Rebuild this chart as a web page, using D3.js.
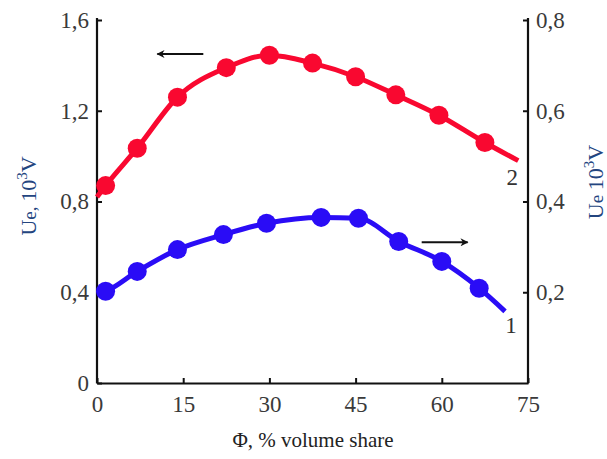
<!doctype html>
<html>
<head>
<meta charset="utf-8">
<script src="https://d3js.org/d3.v7.min.js"></script>
<style>
	body { margin:0; background:#fff; }
	svg { display:block; }
	text { font-family:"Liberation Serif","Times New Roman","DejaVu Serif",serif; }
	.tick-lab { font-size:23px; fill:#3a3a3a; }
	.ylab { font-size:22px; fill:#23457f; }
	.xlab { font-size:21px; fill:#222; }
	.num { font-size:23px; fill:#333; }
</style>
</head>
<body>
<script>

// curve 2 (red, left axis)
var phi2 = [1.5, 7, 14, 22.5, 30, 37.5, 45, 52, 59.5, 67.5]
var ue2 = [0.87, 1.035, 1.26, 1.39, 1.445, 1.41, 1.35, 1.27, 1.18, 1.06]
var line2Start = [0, 0.82]
var line2End = [73.3, 0.98]

// curve 1 (blue, right axis)
var phi1 = [1.5, 7, 14, 22, 29.5, 39, 45.5, 52.5, 60, 66.5]
var ue1 = [0.202, 0.246, 0.294, 0.327, 0.352, 0.365, 0.363, 0.312, 0.268, 0.209]
var line1Start = [0, 0.196]
var line1End = [71, 0.158]

var xTicks = [0, 15, 30, 45, 60, 75]
var yLeftTicks = [0, 0.4, 0.8, 1.2, 1.6]
var yRightTicks = [0.2, 0.4, 0.6, 0.8]

var width = 607
var height = 459
var serif = '"Liberation Serif","Times New Roman","DejaVu Serif",serif'

var svg = d3.select("body").append("svg")
	.attr("width", width)
	.attr("height", height)
	.style("font-family", serif)

var x = d3.scaleLinear().domain([0, 75]).range([97, 528])
var yL = d3.scaleLinear().domain([0, 1.6]).range([383, 20])
var yR = d3.scaleLinear().domain([0, 0.8]).range([383, 20])

function comma(d) { return String(d).replace(".", ",") }

// axes
var bottom = svg.append("g").attr("transform", "translate(0,383)")
	.call(d3.axisBottom(x).tickValues(xTicks).tickSizeInner(-5).tickSizeOuter(0).tickPadding(12).tickFormat(d3.format("d")))
var left = svg.append("g").attr("transform", "translate(97,0)")
	.call(d3.axisLeft(yL).tickValues(yLeftTicks).tickSizeInner(-5).tickSizeOuter(0).tickPadding(8).tickFormat(comma))
var right = svg.append("g").attr("transform", "translate(528,0)")
	.call(d3.axisRight(yR).tickValues(yRightTicks).tickSizeInner(-5).tickSizeOuter(0).tickPadding(8).tickFormat(comma))

svg.selectAll("g").attr("font-family", null).attr("font-size", null)
svg.selectAll(".domain").attr("stroke", "#111").attr("stroke-width", 2.2)
svg.selectAll(".tick line").attr("stroke", "#111").attr("stroke-width", 2)
svg.selectAll(".tick text").attr("class", "tick-lab").style("font-family", serif)
bottom.selectAll(".tick text").attr("dy", "0.75em")
right.select(".domain").attr("d", "M0,18V383.5")
left.select(".domain").attr("d", "M0,18V383.5")

// lines
var lineL = d3.line().x(function(d) { return x(d[0]) }).y(function(d) { return yL(d[1]) }).curve(d3.curveMonotoneX)
var lineR = d3.line().x(function(d) { return x(d[0]) }).y(function(d) { return yR(d[1]) }).curve(d3.curveMonotoneX)

var pts2 = phi2.map(function(p, i) { return [p, ue2[i]] })
var pts1 = phi1.map(function(p, i) { return [p, ue1[i]] })

var red = '#f90830'
var blue = '#2a0cf6'

svg.append("path")
	.attr("d", lineL([line2Start].concat(pts2, [line2End])))
	.attr("fill", "none").attr("stroke", red).attr("stroke-width", 5)

svg.append("path")
	.attr("d", lineR([line1Start].concat(pts1, [line1End])))
	.attr("fill", "none").attr("stroke", blue).attr("stroke-width", 5)

svg.selectAll("c2").data(pts2).enter().append("circle")
	.attr("cx", function(d) { return x(d[0]) })
	.attr("cy", function(d) { return yL(d[1]) })
	.attr("r", 9.5).attr("fill", red)

svg.selectAll("c1").data(pts1).enter().append("circle")
	.attr("cx", function(d) { return x(d[0]) })
	.attr("cy", function(d) { return yR(d[1]) })
	.attr("r", 9.5).attr("fill", blue)

// curve numbers
svg.append("text").attr("class", "num").attr("x", x(line2End[0]) - 6).attr("y", yL(line2End[1]) + 24).attr("text-anchor", "middle").text("2")
svg.append("text").attr("class", "num").attr("x", x(line1End[0]) + 6).attr("y", yR(line1End[1]) + 22).attr("text-anchor", "middle").text("1")

// arrows
svg.append("defs").append("marker")
	.attr("id", "ah").attr("viewBox", "0 0 10 10").attr("refX", 9).attr("refY", 5)
	.attr("markerWidth", 6).attr("markerHeight", 4).attr("orient", "auto")
	.append("path").attr("d", "M0,0L10,5L0,10L3,5Z").attr("fill", "#111")

svg.append("line").attr("x1", x(18.5)).attr("y1", yL(1.45)).attr("x2", x(10.5)).attr("y2", yL(1.45))
	.attr("stroke", "#111").attr("stroke-width", 2).attr("marker-end", "url(#ah)")
svg.append("line").attr("x1", x(56.5)).attr("y1", yR(0.31)).attr("x2", x(64.5)).attr("y2", yR(0.31))
	.attr("stroke", "#111").attr("stroke-width", 2).attr("marker-end", "url(#ah)")

// axis titles
function ylabel(tx, ty, comma) {
	var t = svg.append("text").attr("class", "ylab")
		.attr("transform", "translate(" + tx + "," + ty + ") rotate(-90)")
		.attr("text-anchor", "middle")
	t.append("tspan").text("U")
	t.append("tspan").attr("font-size", "19px").text(comma ? "e, " : "e  ")
	t.append("tspan").text("10")
	t.append("tspan").attr("font-size", "15px").attr("dy", -9).text("3")
	t.append("tspan").attr("dy", 9).text("V")
}
ylabel(36, 196, true)
ylabel(603, 182, false)

svg.append("text").attr("class", "xlab").attr("x", 313).attr("y", 447).attr("text-anchor", "middle").text("Φ, % volume share")

</script>
</body>
</html>
